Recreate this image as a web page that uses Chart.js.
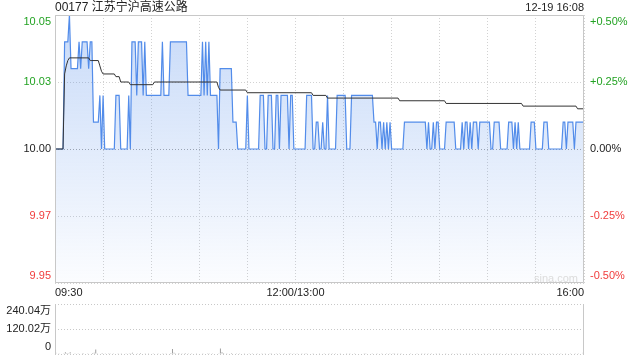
<!DOCTYPE html>
<html>
<head>
<meta charset="utf-8">
<script src="https://cdn.jsdelivr.net/npm/chart.js@4.4.0/dist/chart.umd.min.js"></script>
<style>
  body { margin: 0; background: #fff; }
  #wrap { position: relative; width: 640px; height: 360px; overflow: hidden;
          font-family: "Liberation Sans", Arial, "Noto Sans CJK SC", sans-serif; }
  #main { position: absolute; left: 0; top: 0; }
  #vol { position: absolute; left: 0; top: 300px; }
  #title { position: absolute; left: 55px; top: 0; font-size: 12px; line-height: 14px; color: #222; }
  #stamp { position: absolute; right: 56px; top: 0; font-size: 11px; line-height: 14px; color: #222; }
  #mark { position: absolute; right: 62px; top: 271px; font-size: 11px; line-height: 14px; color: #dcdcdc; }
</style>
</head>
<body>
<div id="wrap">
  <canvas id="main" width="640" height="300"></canvas>
  <canvas id="vol" width="640" height="60"></canvas>
  <div id="title">00177 江苏宁沪高速公路</div>
  <div id="stamp">12-19 16:08</div>
  <div id="mark">sina.com</div>
</div>
<script>
// minute-by-minute last price, 09:30 .. 16:00 (lunch break removed)
const prices = [
  10.00,10.00,10.00,10.00,10.00,10.00,10.04,10.04,10.04,10.05,
  10.03,10.03,10.03,10.03,10.03,10.04,10.03,10.04,10.04,10.04,
  10.04,10.03,10.04,10.04,10.01,10.01,10.01,10.01,10.02,10.00,
  10.02,10.00,10.00,10.00,10.00,10.00,10.00,10.00,10.02,10.02,
  10.02,10.00,10.00,10.00,10.00,10.00,10.02,10.00,10.04,10.04,
  10.04,10.02,10.04,10.04,10.04,10.02,10.04,10.02,10.02,10.02,
  10.02,10.02,10.02,10.02,10.02,10.02,10.02,10.04,10.02,10.02,
  10.02,10.02,10.04,10.04,10.04,10.04,10.04,10.04,10.04,10.04,
  10.04,10.04,10.04,10.02,10.02,10.02,10.02,10.02,10.02,10.02,
  10.02,10.02,10.04,10.02,10.04,10.02,10.04,10.02,10.02,10.02,
  10.02,10.02,10.00,10.03,10.03,10.03,10.03,10.03,10.03,10.03,
  10.03,10.01,10.01,10.01,10.00,10.00,10.00,10.00,10.00,10.00,
  10.02,10.00,10.00,10.00,10.00,10.00,10.00,10.00,10.02,10.02,
  10.02,10.00,10.00,10.02,10.02,10.02,10.00,10.00,10.02,10.02,
  10.00,10.02,10.02,10.02,10.02,10.02,10.00,10.02,10.02,10.00,
  10.00,10.00,10.00,10.00,10.00,10.00,10.00,10.02,10.02,10.02,
  10.02,10.00,10.00,10.01,10.01,10.00,10.00,10.01,10.00,10.00,
  10.02,10.00,10.00,10.00,10.00,10.00,10.02,10.02,10.02,10.02,
  10.02,10.02,10.00,10.00,10.00,10.02,10.02,10.02,10.02,10.02,
  10.02,10.02,10.02,10.02,10.02,10.02,10.02,10.02,10.02,10.01,
  10.01,10.00,10.01,10.01,10.00,10.01,10.00,10.01,10.00,10.01,
  10.00,10.00,10.00,10.00,10.00,10.00,10.00,10.00,10.01,10.01,
  10.01,10.01,10.01,10.01,10.01,10.01,10.01,10.01,10.01,10.01,
  10.01,10.01,10.00,10.01,10.00,10.00,10.01,10.00,10.01,10.01,
  10.00,10.00,10.00,10.00,10.01,10.01,10.01,10.01,10.01,10.01,
  10.00,10.00,10.00,10.00,10.01,10.00,10.01,10.01,10.00,10.01,
  10.00,10.01,10.01,10.01,10.00,10.01,10.01,10.01,10.01,10.01,
  10.01,10.01,10.00,10.00,10.01,10.01,10.01,10.01,10.00,10.00,
  10.00,10.00,10.00,10.01,10.01,10.01,10.00,10.01,10.00,10.01,
  10.00,10.00,10.00,10.00,10.00,10.00,10.00,10.01,10.01,10.01,
  10.00,10.00,10.00,10.00,10.00,10.01,10.01,10.01,10.00,10.00,
  10.00,10.00,10.00,10.00,10.00,10.00,10.00,10.01,10.01,10.00,
  10.01,10.01,10.01,10.01,10.00,10.01,10.01,10.01,10.01,10.01,
  10.01
];

// average price line, read at its step points (minute index / price)
const avgMinutes = [0,5,6,7,8,9,21,22,23,27,28,29,30,37,38,40,41,46,47,61,62,101,102,103,119,120,160,161,169,170,214,215,243,244,291,292,325,326,330];
const avgValues = [10.000,10.000,10.028,10.031,10.033,10.034,10.034,10.033,10.033,10.033,10.031,10.029,10.028,10.028,10.027,10.027,10.025,10.025,10.024,10.024,10.025,10.025,10.023,10.022,10.022,10.021,10.021,10.020,10.020,10.019,10.019,10.018,10.018,10.017,10.017,10.016,10.016,10.015,10.015];

// per-minute volume, in 万 shares
const volumes = [
  6,2,1,3,2,1,9,5,4,8, 3,2,4,2,1,3,2,5,3,2, 4,2,3,5,6,22,4,3,2,5, 3,1,2,1,4,2,1,3,2,4,
  2,1,3,2,1,2,4,1,6,3, 2,4,3,5,2,3,4,2,1,3, 2,1,3,2,1,2,3,4,2,1, 2,3,5,24,6,4,3,5,2,4,
  3,5,2,4,2,1,3,2,1,2, 3,2,4,2,3,1,4,2,1,2, 2,3,4,26,8,5,3,4,2,3, 5,2,3,1,2,1,3,2,1,2,
  3,1,2,1,3,2,1,2,3,1, 2,1,3,2,4,1,2,3,1,2, 1,3,2,4,2,3,1,4,2,1, 2,1,3,2,1,2,1,4,3,2,
  2,1,2,3,2,1,2,3,1,2, 3,1,2,1,2,1,3,2,4,2, 3,2,1,2,1,3,2,4,2,3, 2,3,2,1,4,2,3,2,1,3,
  2,1,3,2,1,3,2,1,2,1, 2,1,1,2,1,2,1,3,2,2, 3,2,4,2,3,2,1,3,2,4, 2,1,3,1,2,1,3,2,1,2,
  1,2,3,2,1,3,2,2,1,2, 3,1,2,1,2,3,2,1,2,1, 2,3,1,2,1,2,3,2,1,3, 2,1,3,2,1,2,1,2,4,2,
  3,2,1,3,2,1,2,3,1,2, 2,1,2,1,3,2,1,2,1,3, 1,2,3,1,2,1,2,3,2,1, 2,1,3,2,1,2,1,3,2,1,
  2,3,1,2,3,1,2,4,2,3, 6
];

// axes
const gridMinutes = [0,30,60,90,120,150,180,210,240,270,300,330];
const timeTicks = [0,150,330];
const timeLabels = ['09:30','12:00/13:00','16:00'];
const priceTicks = [9.95,9.975,10.00,10.025,10.05];
const priceLabels = ['9.95','9.97','10.00','10.03','10.05'];
const pctTicks = [-0.5,-0.25,0,0.25,0.5];
const pctLabels = ['-0.50%','-0.25%','0.00%','+0.25%','+0.50%'];
const volTicks = [0,120.02,240.04];
const volLabels = ['0','120.02万','240.04万'];

const GREEN = '#22a222', RED = '#f03c3c', DARK = '#222';
const levelColors = [RED, RED, DARK, GREEN, GREEN];

Chart.defaults.font.family = '"Liberation Sans", Arial, "Noto Sans CJK SC", sans-serif';
Chart.defaults.font.size = 11;

// first / last label pushed inside the plot, like the original
const innerLabel = (labels) => (v, i, arr) => {
  if (i === 0) return [labels[i], ''];
  if (i === arr.length - 1) return ['', labels[i]];
  return labels[i];
};

// fixed axis width, and no extra room for the taller edge labels
const fixWidth = (w) => (s) => { s.width = w; s.paddingTop = 0; s.paddingBottom = 0; };

const frame = {
  id: 'frame',
  afterDatasetsDraw(chart, args, opts) {
    const a = chart.chartArea, ctx = chart.ctx;
    ctx.save();
    ctx.strokeStyle = '#c8c8c8';
    ctx.lineWidth = 1;
    ctx.beginPath();
    if (opts.full) {
      ctx.rect(a.left + 0.5, a.top + 0.5, a.right - a.left - 1, a.bottom - a.top - 1);
    } else {
      ctx.moveTo(a.left + 0.5, a.top); ctx.lineTo(a.left + 0.5, a.bottom);
      ctx.moveTo(a.right - 0.5, a.top); ctx.lineTo(a.right - 0.5, a.bottom);
    }
    ctx.stroke();
    ctx.restore();
  }
};

new Chart(document.getElementById('main'), {
  type: 'line',
  data: {
    datasets: [
      {
        label: '均价',
        data: avgMinutes.map((m, i) => ({ x: m, y: avgValues[i] })),
        borderColor: '#333',
        borderWidth: 1,
        pointRadius: 0,
        fill: false,
        order: 0
      },
      {
        label: '价格',
        data: prices.map((p, i) => ({ x: i, y: p })),
        borderColor: 'rgb(82,140,234)',
        borderWidth: 1.2,
        pointRadius: 0,
        fill: 'start',
        backgroundColor: (c) => {
          const a = c.chart.chartArea;
          if (!a) return 'rgba(82,140,234,0.15)';
          const g = c.chart.ctx.createLinearGradient(0, a.top, 0, a.bottom);
          g.addColorStop(0, 'rgba(82,140,234,0.32)');
          g.addColorStop(1, 'rgba(82,140,234,0.02)');
          return g;
        },
        order: 1
      }
    ]
  },
  options: {
    responsive: false,
    animation: false,
    layout: { padding: { top: 15 } },
    plugins: { legend: { display: false }, tooltip: { enabled: false }, frame: { full: true } },
    scales: {
      x: {
        type: 'linear', min: 0, max: 330,
        afterBuildTicks: (s) => { s.ticks = gridMinutes.map(v => ({ value: v })); },
        afterFit: (s) => { s.height = 17; s.paddingLeft = 0; s.paddingRight = 0; },
        ticks: {
          autoSkip: false, maxRotation: 0, align: 'inner', padding: 3, color: DARK,
          callback: (v) => { const k = timeTicks.indexOf(v); return k < 0 ? '' : timeLabels[k]; }
        },
        grid: { color: '#d2d2d2', drawTicks: false },
        border: { display: false, dash: [1, 2] }
      },
      y: {
        min: 9.95, max: 10.05,
        afterBuildTicks: (s) => { s.ticks = priceTicks.map(v => ({ value: v })); },
        afterFit: fixWidth(55),
        ticks: { autoSkip: false, padding: 4, color: (c) => levelColors[c.index], callback: innerLabel(priceLabels) },
        grid: { color: (c) => c.tick && c.tick.value === 10 ? '#a8a8a8' : '#d2d2d2', drawTicks: false },
        border: { display: false, dash: [1, 2] }
      },
      y2: {
        position: 'right', min: -0.5, max: 0.5,
        afterBuildTicks: (s) => { s.ticks = pctTicks.map(v => ({ value: v })); },
        afterFit: fixWidth(56),
        ticks: { autoSkip: false, padding: 6, color: (c) => levelColors[c.index], callback: innerLabel(pctLabels) },
        grid: { display: false, drawTicks: false },
        border: { display: false }
      }
    }
  },
  plugins: [frame]
});

new Chart(document.getElementById('vol'), {
  type: 'bar',
  data: {
    labels: volumes.map((v, i) => i),
    datasets: [{ data: volumes, backgroundColor: '#9a9a9a', barPercentage: 0.6, categoryPercentage: 1 }]
  },
  options: {
    responsive: false,
    animation: false,
    layout: { padding: { top: 4, bottom: 6, right: 56 } },
    plugins: { legend: { display: false }, tooltip: { enabled: false }, frame: { full: false } },
    scales: {
      x: { display: false },
      y: {
        min: 0, max: 240.04,
        afterBuildTicks: (s) => { s.ticks = volTicks.map(v => ({ value: v })); },
        afterFit: fixWidth(55),
        ticks: { autoSkip: false, padding: 4, color: DARK, callback: innerLabel(volLabels) },
        grid: { color: '#c8c8c8', drawTicks: false },
        border: { display: false, dash: [1, 2] }
      }
    }
  },
  plugins: [frame]
});
</script>
</body>
</html>
